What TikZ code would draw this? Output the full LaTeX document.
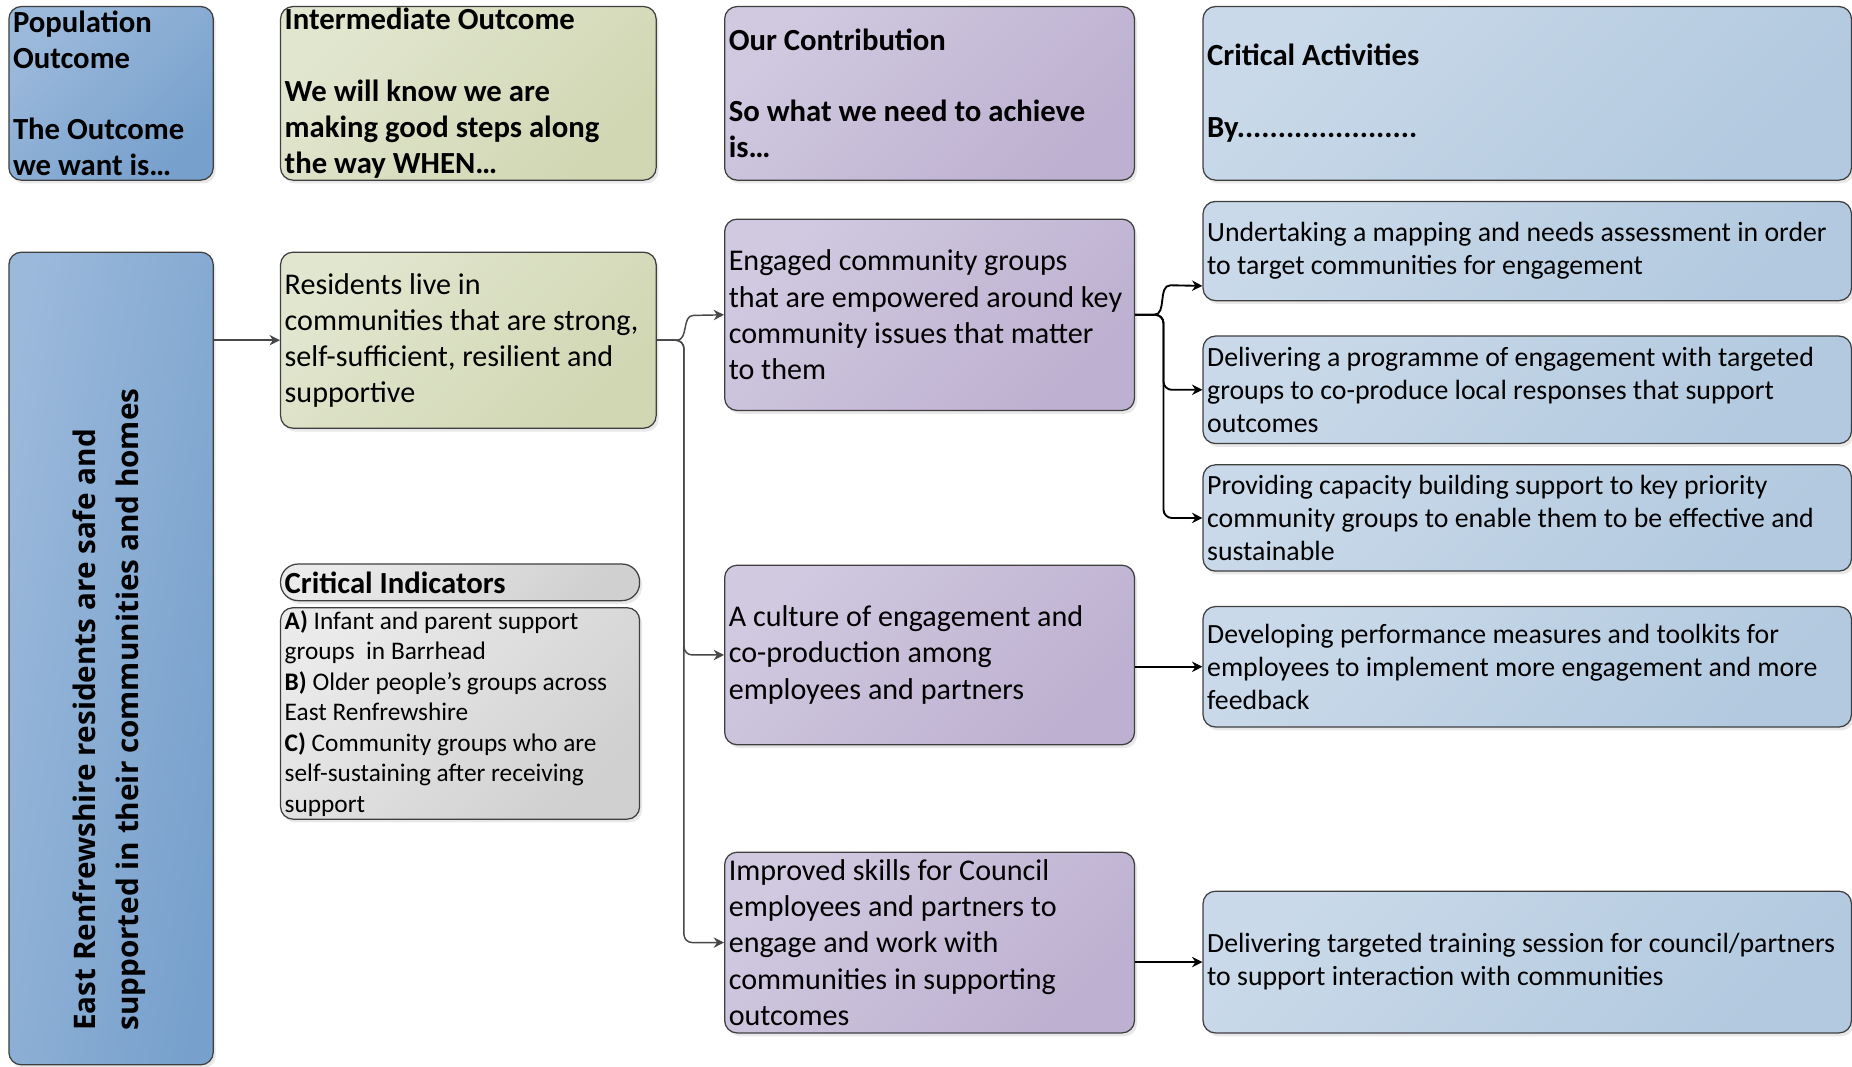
\documentclass[tikz,border=0pt]{standalone}
\usepackage{fontspec}
\setmainfont{Carlito}
\newfontfamily\vertfont{Open Sans}
\usepackage{tikz}
\usetikzlibrary{positioning}
\usetikzlibrary{arrows.meta, shadows}

\definecolor{edge}{HTML}{3F3F3F}
\definecolor{popA}{HTML}{9BB9DB}
\definecolor{popB}{HTML}{77A0CC}
\definecolor{intA}{HTML}{E1E6CF}
\definecolor{intB}{HTML}{D1D7B3}
\definecolor{conA}{HTML}{D0C9E0}
\definecolor{conB}{HTML}{BDB0D0}
\definecolor{actA}{HTML}{C9D9E9}
\definecolor{actB}{HTML}{B2C9DF}
\definecolor{indA}{HTML}{EAEAEA}
\definecolor{indB}{HTML}{D0D0D0}
% word spaces may shrink, so each line keeps to one line
\newcommand\tightsp{\spaceskip=1\fontdimen2\font plus 0.5\fontdimen3\font minus 0.5\fontdimen2\font
 \hyphenpenalty=10000\exhyphenpenalty=10000\hbadness=10000}

\begin{document}
\begin{tikzpicture}[x=0.02cm, y=-0.02cm]

 \tikzset{box/.style 2 args={
 		draw=edge, line width=0.6pt, rounded corners=6pt,
 		anchor=north west, align=left,
 		inner xsep=2pt, inner ysep=0pt,
 		minimum width=#1*0.02cm, text width=#1*0.02cm-4pt,
 		minimum height=#2*0.02cm,
 		execute at begin node={\tightsp},
 		drop shadow={shadow xshift=1.2pt, shadow yshift=-1.6pt, opacity=0.18}
 	},
 	headtxt/.style={font=\fontsize{14.8}{17.3}\selectfont\bfseries},
 	bodytxt/.style={font=\fontsize{14.5}{17.4}\selectfont},
 	acttxt/.style={font=\fontsize{13.4}{15.9}\selectfont},
 	indtxt/.style={font=\fontsize{12.2}{14.7}\selectfont},
 	popcol/.style={top color=popA, bottom color=popB, shading angle=45},
 	intcol/.style={top color=intA, bottom color=intB, shading angle=45},
 	concol/.style={top color=conA, bottom color=conB, shading angle=45},
 	actcol/.style={top color=actA, bottom color=actB, shading angle=45},
 	indcol/.style={top color=indA, bottom color=indB, shading angle=45},
 	link/.style={-{Stealth[length=5pt,width=5pt]}, line width=0.7pt, draw=black!72},
 	boldlink/.style={link, draw=black, line width=0.9pt}
 }

 \useasboundingbox (0,0) rectangle (1568,903);

 % column headers
 \node[box={173}{147}, popcol, headtxt] (popHead) at (7,5)
 	{Population\\Outcome\\[17.3pt]The Outcome\\we want is…};
 \node[box={318}{147}, intcol, headtxt] (intHead) at (237,5)
 	{Intermediate Outcome\\[17.3pt]We will know we are\\making good steps along\\the way WHEN…};
 \node[box={347}{147}, concol, headtxt] (conHead) at (613,5)
 	{Our Contribution\\[17.3pt]So what we need to achieve\\is…};
 \node[box={549}{147}, actcol, headtxt] (actHead) at (1018,5)
 	{Critical Activities\\[17.3pt]By......................};

 % population outcome
 \node[box={173}{688}] [popcol, shading angle=80] (popBox) at (7,213) {};
 \node[rotate=90, anchor=north west, align=left, inner sep=0pt,
 	font=\vertfont\bfseries\fontsize{14.3}{21}\selectfont] (popText) at (61,873)
 	{East Renfrewshire residents are safe and\\supported in their communities and homes};

 % intermediate outcome and indicators
 \node[box={318}{149}, intcol, bodytxt] (res) at (237,213)
 	{Residents live in\\communities that are strong,\\self-sufficient, resilient and\\supportive};
 \node[box={304}{31}, indcol, headtxt, rounded corners=8.5pt] (ciTitle) at (237,477)
 	{Critical Indicators};
 \node[box={304}{179}, indcol, indtxt] (ciBody) at (237,514)
 	{\textbf{A)} Infant and parent support\\groups\ \ in Barrhead\\\textbf{B)} Older people’s groups across\\East Renfrewshire\\\textbf{C)} Community groups who are\\self-sustaining after receiving\\support};

 % contributions
 \node[box={347}{162}, concol, bodytxt] (eng) at (613,185)
 	{Engaged community groups\\that are empowered around key\\community issues that matter\\to them};
 \node[box={347}{152}, concol, bodytxt] (cult) at (613,478)
 	{A culture of engagement and\\co-production among\\employees and partners};
 \node[box={347}{153}, concol, bodytxt] (skills) at (613,721)
 	{Improved skills for Council\\employees and partners to\\engage and work with\\communities in supporting\\outcomes};

 % activities
 \node[box={549}{84}, actcol, acttxt] (act1) at (1018,170)
 	{Undertaking a mapping and needs assessment in order\\to target communities for engagement};
 \node[box={549}{91}, actcol, acttxt] (act2) at (1018,284)
 	{Delivering a programme of engagement with targeted\\groups to co-produce local responses that support\\outcomes};
 \node[box={549}{90}, actcol, acttxt] (act3) at (1018,393)
 	{Providing capacity building support to key priority\\community groups to enable them to be effective and\\sustainable};
 \node[box={549}{102}, actcol, acttxt] (act4) at (1018,513)
 	{Developing performance measures and toolkits for\\employees to implement more engagement and more\\feedback};
 \node[box={549}{120}, actcol, acttxt] (act5) at (1018,754)
 	{Delivering targeted training session for council/partners\\to support interaction with communities};
 \coordinate (act1in) at ([yshift=0.26cm]act1.south west);

 % connectors
 \draw[link] (popBox.east |- res.west) -- (res.west);
 \draw[link] (res.east) -- ++(17,0) to[out=0,in=180] ++(14,-21) -- (eng.west);
 \draw[link, rounded corners=4pt] (res.east) -- ++(23,0) |- (cult.west);
 \draw[link, rounded corners=4pt] (res.east) -- ++(23,0) |- (skills.west);
 \draw[boldlink] (eng.east) -- ++(16,0) to[out=0,in=180] ++(14,-25) -- (act1in);
 \draw[boldlink, rounded corners=4pt] (eng.east) -- ++(24,0) |- (act2.west);
 \draw[boldlink, rounded corners=4pt] (eng.east) -- ++(24,0) |- (act3.west);
 \draw[boldlink] (cult.east |- act4.west) -- (act4.west);
 \draw[boldlink] (skills.east |- act5.west) -- (act5.west);

\end{tikzpicture}
\end{document}
